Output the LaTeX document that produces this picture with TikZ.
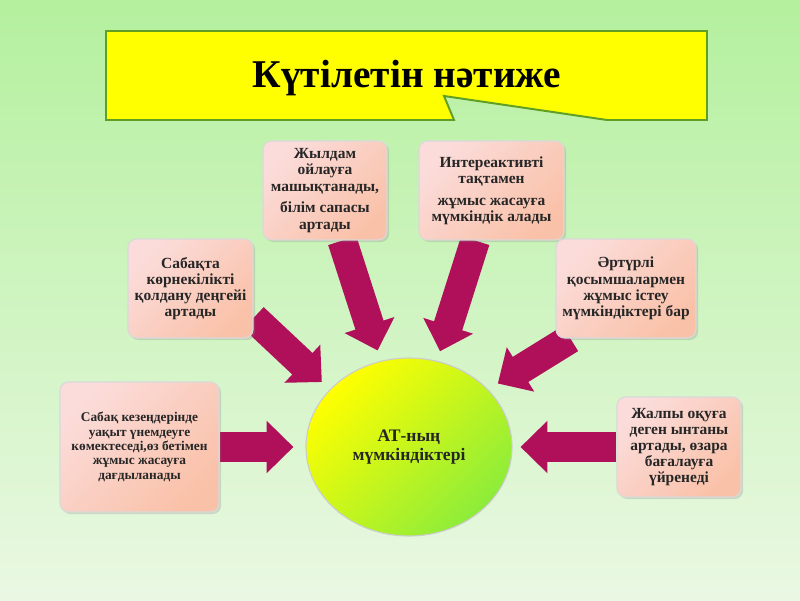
\documentclass[tikz,border=0pt]{standalone}
\usepackage{fontspec}
\setmainfont{Liberation Serif}
\usetikzlibrary{shapes.geometric, arrows.meta, shadows}
\definecolor{bgtop}{HTML}{B4F09E}
\definecolor{bgbot}{HTML}{EAF8E3}
\definecolor{callfill}{HTML}{FFFF00}
\definecolor{callline}{HTML}{5E9F24}
\definecolor{boxlight}{HTML}{FBDCDA}
\definecolor{boxmid}{HTML}{F8A06C}
\definecolor{arrowred}{HTML}{B0105A}
\definecolor{hubyellow}{HTML}{FFFF00}
\definecolor{hubgreen}{HTML}{8CEC3A}
\pgfdeclarelayer{back}
\pgfdeclarelayer{arrowlayer}
\pgfsetlayers{back,arrowlayer,main}

\begin{document}
\begin{tikzpicture}[
    idea/.style={rectangle, rounded corners=6pt, draw=white!85!black, line width=0.8pt,
        left color=boxlight, middle color=boxmid, right color=boxmid!45!boxlight, shading angle=45,
        drop shadow={shadow xshift=1.5pt, shadow yshift=-1.5pt, opacity=0.25},
        align=center, font=\bfseries\fontsize{11}{11.5}\selectfont, text=black!85, inner sep=2pt},
    hubnode/.style={ellipse, draw=white!80!black, line width=0.8pt,
        left color=hubyellow, middle color=hubyellow!80!hubgreen, right color=hubgreen, shading angle=45,
        minimum width=5.15cm, minimum height=4.45cm, align=center,
        font=\bfseries\fontsize{12.5}{14}\selectfont, text=black!85},
    fatarrow/.style={draw=arrowred, line width=21pt, -{Triangle[width=36pt, length=19pt]}}
]
    \useasboundingbox (0,0) rectangle (20,15);
    \begin{pgfonlayer}{back}
        \shade[top color=bgtop, bottom color=bgbot] (0,0) rectangle (20,15);
    \end{pgfonlayer}

    % Title callout
    \draw[fill=callfill, draw=callline, line width=1.4pt]
        (2.65,14.225) -- (17.675,14.225) -- (17.675,12.0) -- (15.175,12.0)
        -- (11.1,12.6) -- (11.35,12.0) -- (2.65,12.0) -- cycle;
    \node[font=\bfseries\fontsize{28}{32}\selectfont] (title) at (10.175,13.05) {Күтілетін нәтиже};

    % Centre
    \node[hubnode] (hub) at (10.225,3.825) {АТ-ның\\мүмкіндіктері};

    % Boxes
    \node[idea, minimum width=3.1cm, minimum height=2.475cm] (quick) at (8.125,10.2375) {
        Жылдам\\ойлауға\\машықтанады,\\[4pt]
        білім сапасы\\артады
    };
    \node[idea, minimum width=3.625cm, minimum height=2.475cm] (board) at (12.2875,10.2375) {
        Интереактивті\\тақтамен\\[4pt]
        жұмыс жасауға\\мүмкіндік алады
    };
    \node[idea, minimum width=3.125cm, minimum height=2.475cm] (visual) at (4.7625,7.7875) {
        Сабақта\\көрнекілікті\\қолдану деңгейі\\артады
    };
    \node[idea, minimum width=3.5cm, minimum height=2.475cm] (apps) at (15.65,7.7875) {
        Әртүрлі\\қосымшалармен\\жұмыс істеу\\мүмкіндіктері бар
    };
    \node[idea, minimum width=3.975cm, minimum height=3.25cm, font=\bfseries\fontsize{9.5}{10.2}\selectfont] (stages) at (3.4875,3.825) {
        Сабақ кезеңдерінде\\уақыт үнемдеуге\\көмектеседі,өз бетімен\\жұмыс жасауға\\дағдыланады
    };
    \node[idea, minimum width=3.1cm, minimum height=2.5cm] (interest) at (16.975,3.825) {
        Жалпы оқуға\\деген ынтаны\\артады, өзара\\бағалауға\\үйренеді
    };

    % Arrows into the centre
    \begin{pgfonlayer}{arrowlayer}
        \draw[fatarrow, shorten >=0.27cm] (visual.-25) -- (hub.144);
        \draw[fatarrow, shorten >=0.27cm] (quick.-71) -- (hub.108);
        \draw[fatarrow, shorten >=0.25cm] (board.-108) -- (hub.72);
        \draw[fatarrow, shorten >=0.28cm] (apps.-138) -- (hub.36);
        \draw[fatarrow, shorten >=0.3cm] (stages.east) -- (hub.west);
        \draw[fatarrow, shorten >=0.2cm] (interest.west) -- (hub.east);
    \end{pgfonlayer}
\end{tikzpicture}
\end{document}
